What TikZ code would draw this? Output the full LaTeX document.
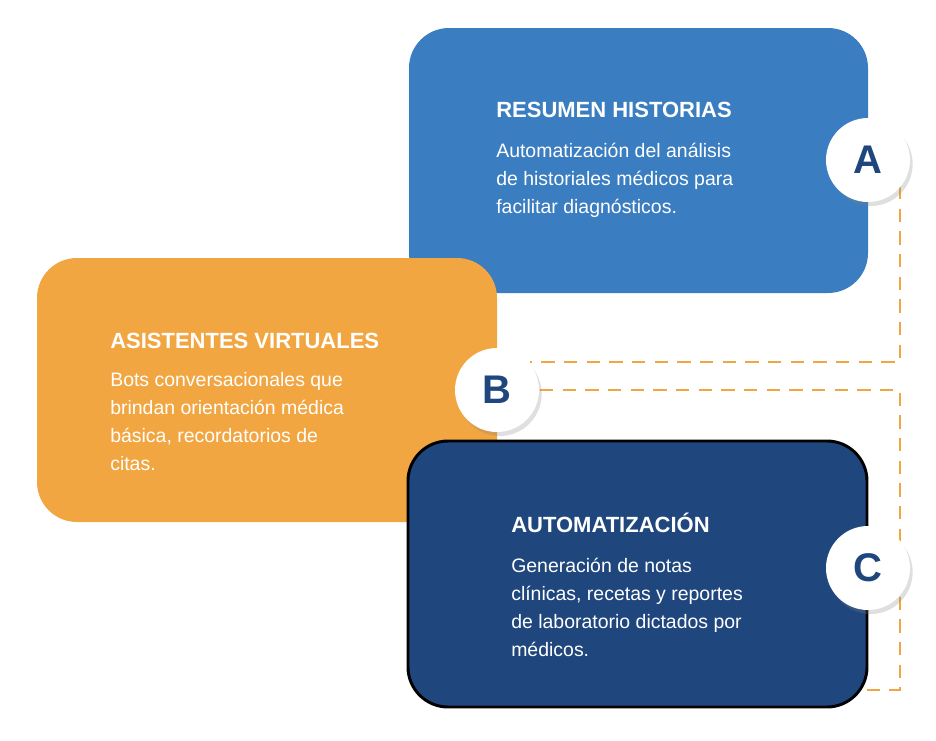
\documentclass[tikz,border=0pt]{standalone}
\usepackage{fontspec}
\setmainfont{Liberation Sans}
\usetikzlibrary{shadows}
\definecolor{cA}{HTML}{3A7DC0}
\definecolor{cB}{HTML}{F2A641}
\definecolor{cC}{HTML}{1F477E}
\definecolor{dash}{HTML}{F2A641}
\begin{document}
\begin{tikzpicture}[x=0.75pt,y=-0.75pt,
  box/.style={rounded corners=30pt},
  ttl/.style={anchor=base west,inner sep=0,text=white,font=\fontsize{16.5}{20}\selectfont\bfseries},
  bdy/.style={anchor=north west,inner sep=0,text=white,align=left,font=\fontsize{14.6}{21}\selectfont},
  badge/.style={circle,fill=white,minimum size=63pt,inner sep=0,text=cC,font=\fontsize{30}{30}\selectfont\bfseries,drop shadow={shadow xshift=2pt,shadow yshift=-3pt,opacity=0.25}},
  dl/.style={draw=dash,line width=2.2pt,dash pattern=on 10pt off 7pt}]
\fill[white] (0,0) rectangle (936,740);
\coordinate (p1) at (900,186);
\coordinate (p2) at (900,362);
\coordinate (p3) at (530,362);
\coordinate (q1) at (540,390);
\coordinate (q2) at (900,390);
\coordinate (q3) at (900,690);
\coordinate (q4) at (860,690);
\draw[dl] (p1) -- (p2) -- (p3);
\draw[dl] (q1) -- (q2) -- (q3) -- (q4);
\fill[cA,box] (409,28) rectangle (868,293);
\fill[cB,box] (37,258) rectangle (497,522);
\filldraw[fill=cC,draw=black,line width=2.2pt,box] (408,441) rectangle (867,707);
\node[ttl] (ta) at (496,117) {RESUMEN HISTORIAS};
\node[bdy] (ba) at (496,143) {Automatización del análisis\\de historiales médicos para\\facilitar diagnósticos.};
\node[ttl] (tb) at (110,348) {ASISTENTES VIRTUALES};
\node[bdy] (bb) at (110,372) {Bots conversacionales que\\brindan orientación médica\\básica, recordatorios de\\citas.};
\node[ttl] (tc) at (511,532) {AUTOMATIZACIÓN};
\node[bdy] (bc) at (511,558) {Generación de notas\\clínicas, recetas y reportes\\de laboratorio dictados por\\médicos.};
\node[badge] (A) at (868,160) {A};
\node[badge] (B) at (497,390) {B};
\node[badge] (C) at (868,568) {C};
\end{tikzpicture}
\end{document}
